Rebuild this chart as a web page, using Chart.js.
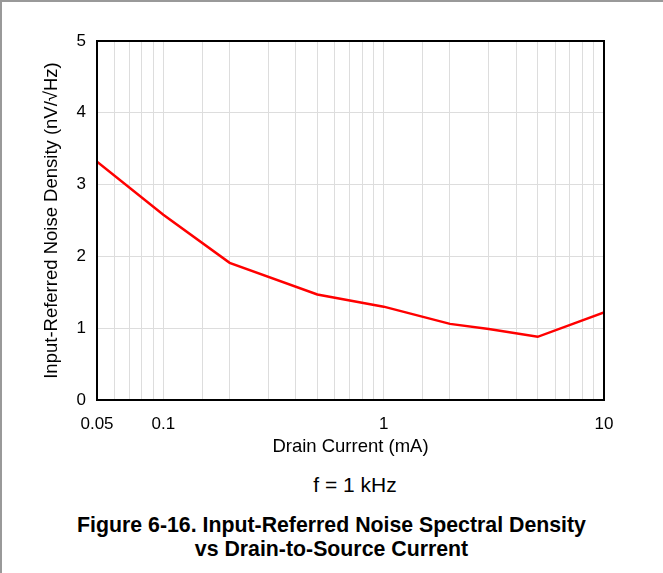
<!DOCTYPE html>
<html>
<head>
<meta charset="utf-8">
<script src="https://cdn.jsdelivr.net/npm/chart.js@4"></script>
<style>
  html, body { margin: 0; padding: 0; background: #fff; }
  body { width: 663px; height: 573px; position: relative; overflow: hidden;
         font-family: "Liberation Sans", Arial, sans-serif; }
  #frame { position: absolute; left: 0; top: 0; width: 663px; height: 573px;
           border-top: 2px solid #999; border-left: 2px solid #999; box-sizing: border-box; }
  #wrap { position: absolute; left: 0; top: 0; width: 663px; height: 460px; }
  #cond { position: absolute; left: 0; width: 710px; top: 473px; text-align: center;
          font-size: 21px; line-height: 24px; color: #000; }
  #caption { position: absolute; left: 0; width: 663px; top: 513px; text-align: center;
             font-size: 21.3px; font-weight: bold; line-height: 24.3px; color: #000; }
</style>
</head>
<body>
<div id="frame"></div>
<div id="wrap"><canvas id="myChart"></canvas></div>
<div id="cond">f = 1 kHz</div>
<div id="caption">Figure 6-16. Input-Referred Noise Spectral Density<br>vs Drain-to-Source Current</div>
<script>
// drain current (mA) and noise density (nV/rtHz)
var current = [0.05, 0.1, 0.2, 0.5, 1, 2, 3, 5, 10];
var noise = [3.32, 2.58, 1.91, 1.47, 1.30, 1.06, 0.99, 0.88, 1.22];
var xLabels = [0.05, 0.1, 1, 10];
var yTicks = [0, 1, 2, 3, 4, 5];

var points = [];
for (var i = 0; i < current.length; i++) {
    points.push({ x: current[i], y: noise[i] });
}

var frameBox = {
    id: 'frameBox',
    afterDraw: function (chart) {
        var a = chart.chartArea;
        var c = chart.ctx;
        c.save();
        c.strokeStyle = '#000';
        c.lineWidth = 2;
        c.strokeRect(a.left, a.top, a.right - a.left, a.bottom - a.top);
        c.restore();
    }
};

var ctx = document.getElementById("myChart");
var myChart = new Chart(ctx, {
    type: 'line',
    data: {
        datasets: [{
            data: points,
            borderColor: '#ff0000',
            borderWidth: 2.5,
            pointRadius: 0,
            tension: 0,
            fill: false
        }]
    },
    options: {
        responsive: true,
        maintainAspectRatio: false,
        animation: false,
        layout: { padding: { top: 41, right: 59, bottom: 2, left: 0 } },
        plugins: { legend: { display: false }, tooltip: { enabled: false } },
        scales: {
            x: {
                type: 'logarithmic',
                min: 0.05,
                max: 10,
                afterFit: function (s) { s.height = 58; },
                grid: { color: '#dddddd', lineWidth: 1, drawTicks: false },
                border: { display: false },
                ticks: {
                    autoSkip: false,
                    maxRotation: 0,
                    padding: 14,
                    color: '#000',
                    font: { family: 'Liberation Sans', size: 17 },
                    callback: function (v) {
                        for (var k = 0; k < xLabels.length; k++) {
                            if (Math.abs(v - xLabels[k]) < 1e-9) return String(xLabels[k]);
                        }
                        return '';
                    }
                },
                title: {
                    display: true,
                    text: 'Drain Current (mA)',
                    color: '#000',
                    padding: 0,
                    font: { family: 'Liberation Sans', size: 18.5 }
                }
            },
            y: {
                min: 0,
                max: 5,
                afterFit: function (s) { s.width = 97; },
                afterBuildTicks: function (s) {
                    s.ticks = yTicks.map(function (v) { return { value: v }; });
                },
                grid: { color: '#dddddd', lineWidth: 1, drawTicks: false },
                border: { display: false },
                ticks: {
                    padding: 11,
                    color: '#000',
                    font: { family: 'Liberation Sans', size: 17 }
                },
                title: {
                    display: true,
                    text: 'Input-Referred Noise Density (nV/\u221AHz)',
                    color: '#000',
                    padding: { top: 41, bottom: 0 },
                    font: { family: 'Liberation Sans', size: 18.5 }
                }
            }
        }
    },
    plugins: [frameBox]
});
</script>
</body>
</html>
